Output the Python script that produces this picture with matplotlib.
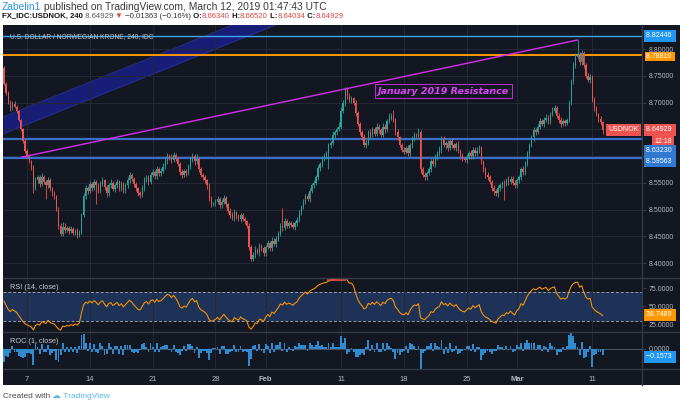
"""USD/NOK 4h chart with RSI and ROC panes, TradingView dark style."""

import matplotlib

matplotlib.use("Agg")
import matplotlib.pyplot as plt
import numpy as np
from matplotlib.lines import Line2D
from matplotlib.patches import Rectangle

W, H = 680, 407
FONT = ["Liberation Sans", "DejaVu Sans"]
BG = "#131722"
GRID = "#242834"
SEP = "#363a45"
AXIS_TXT = "#b2b5be"
UP = "#26a69a"
DOWN = "#ef5350"

# ---------------------------------------------------------------- data
# closes before the first visible candle (only used to seed RSI / ROC)
warmup_closes = [8.700, 8.712, 8.705, 8.720, 8.735, 8.728, 8.745, 8.740, 8.752,
                 8.748, 8.760, 8.755, 8.742, 8.750, 8.762, 8.758, 8.765]

# 4h closes, one row per trading day (Jan 3 .. Mar 11)
closes = [
    8.735, 8.718, 8.700, 8.690, 8.698,
    8.692, 8.684, 8.668, 8.650, 8.628, 8.610,
    8.600, 8.590, 8.578, 8.540, 8.555, 8.560,
    8.548, 8.560, 8.552, 8.545, 8.555, 8.540,
    8.530, 8.525, 8.500, 8.470, 8.455, 8.468,
    8.462, 8.466, 8.460, 8.464, 8.457, 8.461,
    8.452, 8.458, 8.490, 8.525, 8.540, 8.535,
    8.548, 8.540, 8.552, 8.545, 8.535, 8.548,
    8.555, 8.542, 8.530, 8.545, 8.550, 8.538,
    8.545, 8.552, 8.540, 8.548, 8.535, 8.545,
    8.555, 8.565, 8.558, 8.548, 8.540, 8.530,
    8.528, 8.540, 8.555, 8.560, 8.552, 8.565,
    8.570, 8.562, 8.575, 8.568, 8.572, 8.580,
    8.590, 8.600, 8.598, 8.592, 8.602, 8.595,
    8.585, 8.570, 8.565, 8.572, 8.568, 8.580,
    8.592, 8.600, 8.590, 8.595, 8.575, 8.565,
    8.560, 8.555, 8.545, 8.520, 8.510, 8.512,
    8.515, 8.520, 8.508, 8.515, 8.522, 8.510,
    8.498, 8.490, 8.485, 8.495, 8.488, 8.482,
    8.490, 8.482, 8.478, 8.470, 8.430, 8.408,
    8.415, 8.425, 8.420, 8.432, 8.428, 8.418,
    8.430, 8.438, 8.428, 8.442, 8.435, 8.445,
    8.455, 8.470, 8.465, 8.478, 8.470, 8.475,
    8.472, 8.468, 8.475, 8.480, 8.495, 8.505,
    8.515, 8.525, 8.520, 8.535, 8.545, 8.550,
    8.560, 8.578, 8.585, 8.595, 8.600, 8.605,
    8.620, 8.625, 8.640, 8.645, 8.650, 8.655,
    8.685, 8.700, 8.725, 8.712, 8.705, 8.708,
    8.700, 8.680, 8.660, 8.645, 8.635, 8.620,
    8.625, 8.645, 8.640, 8.650, 8.642, 8.655,
    8.648, 8.640, 8.655, 8.650, 8.665, 8.672,
    8.675, 8.668, 8.645, 8.635, 8.620, 8.612,
    8.608, 8.615, 8.605, 8.620, 8.632, 8.640,
    8.638, 8.645, 8.575, 8.565, 8.560, 8.568,
    8.575, 8.590, 8.585, 8.598, 8.605, 8.610,
    8.632, 8.620, 8.625, 8.615, 8.628, 8.620,
    8.615, 8.622, 8.610, 8.600, 8.595, 8.592,
    8.598, 8.605, 8.600, 8.612, 8.605, 8.610,
    8.615, 8.590, 8.575, 8.565, 8.560, 8.552,
    8.540, 8.535, 8.530, 8.540, 8.545, 8.550,
    8.548, 8.555, 8.552, 8.558, 8.550, 8.545,
    8.555, 8.560, 8.575, 8.570, 8.585, 8.605,
    8.620, 8.635, 8.648, 8.645, 8.655, 8.665,
    8.660, 8.668, 8.672, 8.665, 8.678, 8.685,
    8.690, 8.675, 8.668, 8.660, 8.665, 8.662,
    8.668, 8.700, 8.740, 8.770, 8.785, 8.790,
    8.775, 8.792, 8.770, 8.750, 8.742, 8.748,
    8.705, 8.690, 8.678, 8.670, 8.663, 8.64929,
]

# wick lengths above / below the body, in thousandths
upper_wicks = [
    3, 4, 3, 5, 4,
    4, 3, 3, 2, 3, 4,
    3, 4, 3, 5, 6, 4,
    5, 8, 4, 3, 6, 4,
    3, 4, 3, 4, 5, 8,
    6, 4, 3, 5, 4, 3,
    4, 3, 4, 5, 6, 4,
    5, 4, 6, 3, 4, 5,
    6, 3, 4, 5, 8, 4,
    4, 5, 3, 6, 4, 5,
    5, 6, 4, 3, 4, 3,
    4, 5, 6, 4, 5, 6,
    5, 4, 6, 4, 5, 7,
    6, 5, 4, 5, 6, 4,
    3, 4, 5, 4, 3, 5,
    6, 5, 4, 8, 3, 4,
    3, 4, 3, 4, 5, 3,
    4, 5, 3, 4, 5, 3,
    3, 4, 5, 6, 3, 4,
    4, 3, 4, 3, 5, 4,
    5, 6, 4, 5, 3, 4,
    4, 5, 3, 6, 4, 5,
    5, 4, 33, 6, 5, 4,
    4, 5, 4, 6, 5, 4,
    5, 4, 6, 5, 4, 6,
    5, 6, 4, 5, 6, 4,
    5, 4, 6, 4, 5, 8,
    6, 5, 5, 4, 6, 4,
    3, 4, 5, 4, 3, 6,
    5, 4, 6, 5, 4, 6,
    4, 5, 6, 4, 5, 8,
    6, 11, 4, 5, 3, 4,
    5, 4, 6, 5, 6, 5,
    4, 8, 3, 4, 5, 4,
    5, 4, 6, 5, 4, 8,
    5, 6, 4, 5, 4, 5,
    4, 5, 6, 4, 5, 4,
    5, 4, 6, 5, 4, 6,
    5, 4, 3, 4, 5, 4,
    4, 5, 4, 6, 5, 4,
    5, 4, 8, 5, 4, 6,
    4, 5, 4, 6, 5, 4,
    5, 4, 6, 5, 4, 6,
    4, 5, 6, 4, 5, 6,
    5, 4, 6, 5, 4, 5,
    4, 5, 4, 6, 8, 27,
    5, 6, 5, 4, 5, 6,
    4, 5, 4, 3, 4, 2,
]
lower_wicks = [
    3, 4, 3, 5, 4,
    3, 4, 3, 4, 3, 5,
    4, 3, 4, 9, 4, 5,
    6, 4, 5, 25, 4, 5,
    4, 5, 3, 6, 5, 4,
    5, 4, 6, 4, 5, 4,
    5, 4, 3, 4, 5, 6,
    4, 5, 3, 35, 4, 5,
    4, 5, 6, 4, 5, 4,
    5, 4, 6, 5, 4, 5,
    4, 5, 4, 6, 5, 4,
    6, 4, 5, 4, 6, 5,
    4, 5, 4, 6, 5, 4,
    5, 4, 6, 5, 4, 5,
    4, 5, 6, 4, 5, 4,
    5, 4, 6, 5, 4, 5,
    4, 5, 6, 4, 5, 4,
    5, 4, 6, 5, 4, 6,
    4, 5, 4, 6, 5, 4,
    5, 4, 5, 4, 6, 5,
    4, 5, 4, 6, 5, 4,
    5, 4, 6, 5, 4, 5,
    4, 5, 6, 4, 5, 4,
    5, 4, 6, 5, 4, 5,
    4, 5, 4, 6, 5, 4,
    5, 4, 6, 5, 4, 5,
    30, 5, 4, 6, 5, 4,
    5, 4, 6, 5, 4, 6,
    4, 5, 4, 6, 5, 4,
    5, 4, 6, 5, 4, 5,
    4, 5, 4, 6, 5, 4,
    5, 4, 6, 5, 4, 5,
    4, 5, 4, 6, 5, 4,
    5, 4, 6, 5, 4, 5,
    4, 5, 4, 6, 5, 4,
    5, 4, 6, 5, 4, 5,
    4, 5, 4, 6, 5, 4,
    5, 4, 6, 5, 4, 5,
    4, 5, 4, 6, 5, 4,
    5, 8, 4, 6, 5, 4,
    30, 4, 6, 5, 4, 5,
    4, 5, 4, 6, 5, 4,
    5, 4, 6, 5, 4, 5,
    4, 5, 4, 6, 5, 4,
    5, 4, 6, 5, 4, 5,
    4, 5, 4, 6, 5, 4,
    5, 4, 6, 5, 4, 5,
    4, 5, 4, 6, 5, 9,
]
FIRST_BAR = -11  # bar index of first candle; Jan 7 00:00 is bar 0

date_ticks = [0, 30, 60, 90, 114, 150, 180, 210, 234, 270]
date_labels = ["7", "14", "21", "28", "Feb", "11", "18", "25", "Mar", "11"]
month_labels = ["Feb", "Mar"]

price_ticks = [8.40, 8.45, 8.50, 8.55, 8.60, 8.65, 8.70, 8.75, 8.80]
price_tick_labels = ["8.40000", "8.45000", "8.50000", "8.55000", "", "",
                     "8.70000", "8.75000", "8.80000"]

# horizontal levels drawn on the chart
level_values = [8.82446, 8.78810, 8.63230, 8.59563]
level_colors = ["#3ea6f0", "#ff9800", "#3a6fc9", "#3a6fc9"]
level_widths = [1.0, 1.4, 1.6, 1.6]

# rising resistance line (bar index, price)
trend_x = [-2.5, 263]
trend_y = [8.598, 8.817]

# parallel channel (bar index, upper/lower price)
channel_x = [-11.5, 125]
channel_upper = [8.673, 8.887]
channel_lower = [8.6415, 8.855]

label_x, label_y = 199, 8.7215
rsi_mark_x = [144, 152]
rsi_mark_y = [86.5, 86.5]

last_rsi = 38.7489
last_roc = -0.1573

# ---------------------------------------------------------------- derived
closes_a = np.array(closes)
all_closes = np.array(warmup_closes + closes)
opens = all_closes[len(warmup_closes) - 1:-1]
up_w = np.array(upper_wicks) / 1000.0
lo_w = np.array(lower_wicks) / 1000.0
highs = np.maximum(opens, closes_a) + up_w
lows = np.minimum(opens, closes_a) - lo_w
bars = np.arange(len(closes)) + FIRST_BAR
colors = np.where(closes_a >= opens, UP, DOWN)

# Wilder RSI(14)
delta = np.diff(all_closes)
gain = np.clip(delta, 0, None)
loss = np.clip(-delta, 0, None)
n = 14
avg_g = np.full(len(delta), np.nan)
avg_l = np.full(len(delta), np.nan)
avg_g[n - 1] = gain[:n].mean()
avg_l[n - 1] = loss[:n].mean()
for k in range(n, len(delta)):
    avg_g[k] = (avg_g[k - 1] * (n - 1) + gain[k]) / n
    avg_l[k] = (avg_l[k - 1] * (n - 1) + loss[k]) / n
rsi = 100 - 100 / (1 + avg_g / avg_l)
off = len(warmup_closes) - 1
rsi = rsi[off:]
roc = (100 * delta / all_closes[:-1])[off:]


# ---------------------------------------------------------------- figure
def fx(px):
    return px / W


def fy(py):
    return 1 - py / H


fig = plt.figure(figsize=(W / 100, H / 100), dpi=100, facecolor="white")
fig.add_artist(Rectangle((fx(3), fy(385)), 1 - fx(3), (385 - 25) / H,
                         transform=fig.transFigure, fc=BG, ec="none", zorder=-10))

ax = fig.add_axes([fx(3), fy(278), (642 - 3) / W, (278 - 25) / H])
ax_rsi = fig.add_axes([fx(3), fy(332), (642 - 3) / W, (332 - 278) / H], sharex=ax)
ax_roc = fig.add_axes([fx(3), fy(369), (642 - 3) / W, (369 - 332) / H], sharex=ax)

for a in (ax, ax_rsi, ax_roc):
    a.set_facecolor(BG)
    for s in a.spines.values():
        s.set_visible(False)
    a.yaxis.tick_right()
    a.tick_params(axis="y", length=3, color=SEP, pad=2, labelsize=5,
                  labelcolor=AXIS_TXT)
    a.tick_params(axis="x", length=0, labelbottom=False)
    a.set_xticks(date_ticks)
    a.grid(True, axis="x", color=GRID, lw=0.8, zorder=0)

ax.set_xlim(-11.5, 293.8)

# main pane
ax.set_ylim(8.372, 8.845)
ax.set_yticks(price_ticks)
ax.set_yticklabels(price_tick_labels, family=FONT)
ax.grid(True, axis="y", color=GRID, lw=0.8, zorder=0)

ax.fill_between(channel_x, channel_lower, channel_upper, color="#181e78",
                lw=0, zorder=1)
ax.plot(channel_x, channel_upper, color="#262c90", lw=0.8, zorder=1)
ax.plot(channel_x, channel_lower, color="#262c90", lw=0.8, zorder=1)

for v, c, lw in zip(level_values, level_colors, level_widths):
    ax.axhline(v, color=c, lw=lw, zorder=2)

ax.vlines(bars, lows, highs, colors=colors, lw=0.6, zorder=3)
ax.bar(bars, np.maximum(np.abs(closes_a - opens), 0.0007),
       bottom=np.minimum(opens, closes_a), width=0.62, color=colors, lw=0,
       zorder=3)

ax.plot(trend_x, trend_y, color="#d62ee8", lw=1.0, zorder=4)
ax.text(label_x, label_y, "January 2019 Resistance", ha="center", va="center",
        color="#e040fb", fontsize=6.8, fontweight="bold", fontstyle="italic",
        family="DejaVu Sans", zorder=5,
        bbox=dict(boxstyle="square,pad=0.3", fc=BG, ec="#b72dcc", lw=0.8))
ax.text(0.011, 0.9526, "U.S. DOLLAR / NORWEGIAN KRONE, 240, IDC",
        transform=ax.transAxes, ha="left", va="center", fontsize=4.8,
        color="#c3c6cd", family=FONT, zorder=5)


def price_box(a, value, text, fc, dy=0, dx=4, ha="left", tc="white", pad=0.35):
    a.annotate(text, xy=(1, value), xycoords=a.get_yaxis_transform(),
               xytext=(dx, dy), textcoords="offset pixels", ha=ha, va="center",
               fontsize=5, color=tc, family=FONT, annotation_clip=False,
               zorder=6,
               bbox=dict(boxstyle=f"square,pad={pad}", fc=fc, ec="none"))


price_box(ax, 8.82446, "8.82446 ", "#2196f3")
price_box(ax, 8.78810, "8.78810 ", "#ff9800", dy=-1, pad=0.2)
price_box(ax, closes[-1], "8.64929 ", "#ef5350")
price_box(ax, closes[-1], "USDNOK", "#ef5350", dx=-3, ha="right")
price_box(ax, closes[-1], "12:18", "#ef5350", dy=-11.5, dx=12)
price_box(ax, 8.63230, "8.63230 ", "#3179d0", dy=-12)
price_box(ax, 8.59563, "8.59563 ", "#3179d0", dy=-3)

# RSI pane
ax_rsi.set_ylim(14.8, 89.3)
ax_rsi.set_yticks([25, 50, 75])
ax_rsi.set_yticklabels(["25.0000", "50.0000", "75.0000"], family=FONT)
ax_rsi.axhspan(30, 70, color="#1d3256", lw=0, zorder=0.5)
for v in (30, 70):
    ax_rsi.axhline(v, color="#9a9ea8", lw=0.7, ls=(0, (3, 2)), zorder=1)
ax_rsi.plot(bars, rsi, color="#ff9800", lw=0.75, zorder=3)
ax_rsi.plot(rsi_mark_x, rsi_mark_y, color="#ef5350", lw=1.2, zorder=3)
ax_rsi.text(0.011, 0.83, "RSI (14, close)", transform=ax_rsi.transAxes,
            ha="left", va="center", fontsize=5.3, color="#c3c6cd", family=FONT)
price_box(ax_rsi, last_rsi, "38.7489 ", "#ff9800")

# ROC pane
ax_roc.set_ylim(-0.545, 0.463)
ax_roc.set_yticks([0])
ax_roc.set_yticklabels(["0.0000"], family=FONT)
ax_roc.axhline(0, color="#4a4e5a", lw=0.8, zorder=1)
ax_roc.bar(bars, roc, width=0.9, color="#2f8ad0", lw=0, zorder=2)
ax_roc.text(0.011, 0.73, "ROC (1, close)", transform=ax_roc.transAxes,
            ha="left", va="center", fontsize=5.3, color="#c3c6cd", family=FONT)
price_box(ax_roc, last_roc, "\u22120.1573 ", "#2196f3", dy=-2)

ax_roc.tick_params(axis="x", labelbottom=True, pad=5, labelsize=5.5,
                   labelcolor=AXIS_TXT)
ax_roc.set_xticklabels(date_labels, family=FONT)
for lab in ax_roc.get_xticklabels():
    if lab.get_text() in month_labels:
        lab.set_fontweight("bold")

# pane separators and price-axis border
for py in (278, 332, 369):
    fig.add_artist(Line2D([fx(3), 1], [fy(py), fy(py)], color=SEP, lw=1.0,
                          zorder=5))
fig.add_artist(Line2D([fx(642), fx(642)], [fy(25), fy(385)], color=SEP,
                      lw=1.0, zorder=5))


# header and footer
def text_runs(x_px, y_px, runs, size):
    renderer = fig.canvas.get_renderer()
    x = x_px
    for s, color, weight in runs:
        t = fig.text(fx(x), fy(y_px), s, fontsize=size, color=color,
                     fontweight=weight, family=FONT, ha="left", va="center")
        x += t.get_window_extent(renderer).width


DARK = "#3a3a3a"
RED = "#e0453f"
text_runs(2, 6.7, [("Zabelin1", "#2f95dc", "normal"),
                   (" published on TradingView.com, March 12, 2019 01:47:43 UTC",
                    DARK, "normal")], 7.4)
text_runs(2, 16.2, [("FX_IDC:USDNOK, 240", "#111111", "bold"),
                    (" 8.64929", "#555555", "normal"),
                    (" \u25bc", RED, "normal"),
                    (" \u22120.01363 (\u22120.16%)", "#333333", "normal"),
                    (" O:", "#111111", "bold"), ("8.66340", RED, "normal"),
                    (" H:", "#111111", "bold"), ("8.66520", RED, "normal"),
                    (" L:", "#111111", "bold"), ("8.64034", RED, "normal"),
                    (" C:", "#111111", "bold"), ("8.64929", RED, "normal")], 5.6)
text_runs(3, 397, [("Created with", "#4a4a4a", "normal"),
                   (" \u2601", "#5ab4ee", "normal"),
                   (" TradingView", "#5ab4ee", "normal")], 6.0)

fig.savefig("out.png", dpi=100, facecolor="white")
